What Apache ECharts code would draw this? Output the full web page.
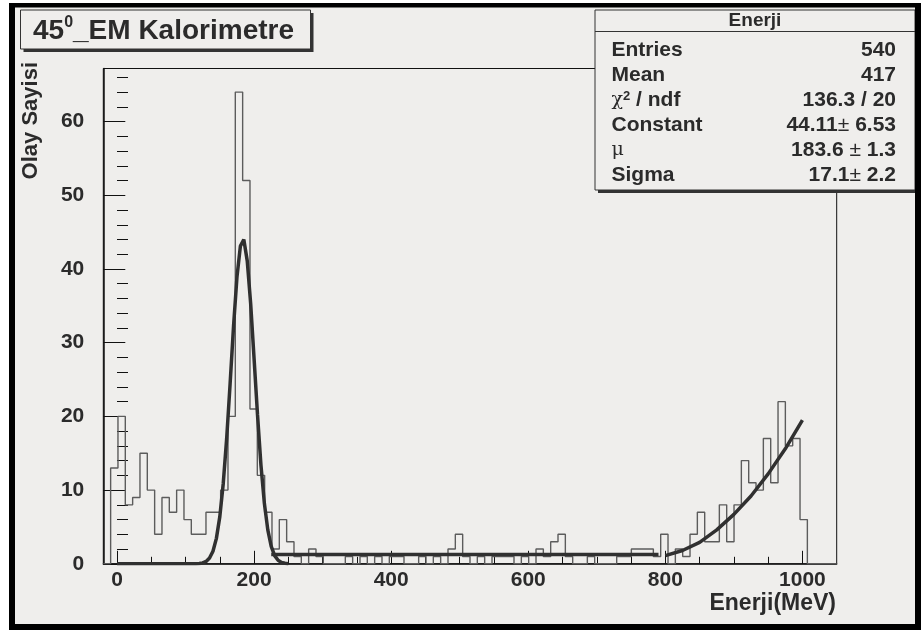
<!DOCTYPE html>
<html><head><meta charset="utf-8">
<script src="https://cdn.jsdelivr.net/npm/echarts@6/dist/echarts.min.js"></script>
<style>html,body{margin:0;padding:0;background:#fff}#c{width:921px;height:630px}</style>
</head><body><div id="c"></div>
<script>
// ---------------- data ----------------
const histMin = -20;
const histMax = 1050;
const counts = [
  0,13,20,8,9,15,10,4,9,7,
  10,6,4,4,7,7,10,20,64,52,
  21,12,7,2,6,3,1,0,2,1,
  0,0,0,1,0,1,0,1,0,1,
  1,0,0,1,0,1,0,2,4,1,
  0,1,0,1,1,1,0,1,0,2,
  1,3,4,1,0,0,1,0,0,0,
  1,1,2,2,2,1,4,0,2,1,
  4,7,3,3,8,3,8,14,11,10,
  17,11,22,16,17,6,0,0,0,0
];
// fit curves, points
const gausX = [0,50,100,110,115,120,125,130,135,140,145,150,155,160,165,170,175,180,185,190,195,200,205,210,215,220,225,230,235,240,245,250];
const gausY = [0,0,0,0,0.01,0.04,0.12,0.32,0.78,1.71,3.45,6.40,10.9,17.0,24.4,32.2,38.9,43.1,44.0,41.1,35.3,27.8,20.2,13.4,8.2,4.6,2.35,1.11,0.48,0.19,0.07,0.02];
const flatX = [225,790];
const flatY = [1.25,1.25];
const expX = [800,825,850,875,900,925,950,975,1000];
const expY = [1.1,1.8,2.9,4.6,6.7,9.2,12.2,15.6,19.5];
const xTickLabels = [0,200,400,600,800,1000];
const xMinorTicks = [50,100,150,250,300,350,450,500,550,650,700,750,850,900,950];
const yTickLabels = [0,10,20,30,40,50,60];
const yMinorTicks = [2,4,6,8,12,14,16,18,22,24,26,28,32,34,36,38,42,44,46,48,52,54,56,58,62,64,66];
const yMax = 67.2;
const statsRows = [
  ['Entries','540'],
  ['Mean','417'],
  ['chi','136.3 / 20'],
  ['Constant','44.11', '6.53'],
  ['mu','183.6 ', '1.3'],
  ['Sigma','17.1', '2.2']
];

// --------------- build ----------------
const nb = counts.length;
const bw = (histMax - histMin) / nb;
const histPts = counts.map((c, k) => [histMin + k * bw, c]);
histPts.push([histMax, 0]);
const zip = (a, b) => a.map((v, i) => [v, b[i]]);

const FF = '"Liberation Sans", Arial, Helvetica, sans-serif';
const TXT = '#2b2b2b';
const BG = '#efeeec';
const G = {left: 103.3, top: 68.5, width: 733.4, height: 495.3};

const chart = echarts.init(document.getElementById('c'), null, {renderer: 'canvas', width: 921, height: 630});

const lineSeries = (data, color, width, z, step) => ({
  type: 'line', data, symbol: 'none', step: step || false, z,
  lineStyle: {color, width}, silent: true, animation: false,
  xAxisIndex: 0, yAxisIndex: 0
});

const graphic = [];
// white outer margins + black canvas border
graphic.push({type: 'rect', shape: {x: 0, y: 0, width: 921, height: 3}, style: {fill: '#fff'}, z: 0});
graphic.push({type: 'rect', shape: {x: 0, y: 0, width: 9, height: 630}, style: {fill: '#fff'}, z: 0});
graphic.push({type: 'rect', shape: {x: 9, y: 3, width: 912, height: 4.5}, style: {fill: '#000'}, z: 100});
graphic.push({type: 'rect', shape: {x: 9, y: 3, width: 6, height: 627}, style: {fill: '#000'}, z: 100});
graphic.push({type: 'rect', shape: {x: 915, y: 3, width: 6, height: 627}, style: {fill: '#000'}, z: 100});
graphic.push({type: 'rect', shape: {x: 9, y: 624, width: 912, height: 6}, style: {fill: '#000'}, z: 100});

// title box
graphic.push({type: 'rect', shape: {x: 23.5, y: 13, width: 290, height: 39}, style: {fill: '#333'}, z: 50});
graphic.push({type: 'rect', shape: {x: 20.5, y: 10, width: 290, height: 39}, style: {fill: BG, stroke: '#333', lineWidth: 1}, z: 51});
graphic.push({type: 'text', x: 33, y: 30, z: 52, style: {
  text: '{b|45}{s|0}{b|_EM Kalorimetre}', verticalAlign: 'middle', align: 'left',
  rich: {
    b: {fontFamily: FF, fontWeight: 'bold', fontSize: 28, fill: TXT, lineHeight: 30, verticalAlign: 'bottom'},
    s: {fontFamily: FF, fontWeight: 'bold', fontSize: 16, fill: TXT, lineHeight: 30, verticalAlign: 'top'}
  }
}});

// stats box
const SB = {x: 595, y: 10, w: 320, h: 180};
graphic.push({type: 'rect', shape: {x: SB.x + 3, y: SB.y + 3, width: SB.w, height: SB.h}, style: {fill: '#333'}, z: 50});
graphic.push({type: 'rect', shape: {x: SB.x, y: SB.y, width: SB.w, height: SB.h}, style: {fill: BG, stroke: '#333', lineWidth: 1}, z: 51});
graphic.push({type: 'line', shape: {x1: SB.x, y1: 31.5, x2: SB.x + SB.w, y2: 31.5}, style: {stroke: '#333', lineWidth: 1}, z: 52});
graphic.push({type: 'text', x: 755, y: 21, z: 52, style: {text: 'Enerji', font: 'bold 19px ' + FF, fill: TXT, align: 'center', verticalAlign: 'middle'}});
const rowY = [50.5, 75.5, 100.5, 125.5, 150.5, 175.5];
const richS = {
  b: {fontFamily: FF, fontWeight: 'bold', fontSize: 21, fill: TXT},
  n: {fontFamily: FF, fontWeight: 'normal', fontSize: 21, fill: TXT},
  sup: {fontFamily: FF, fontWeight: 'bold', fontSize: 13, fill: TXT, verticalAlign: 'top', lineHeight: 22},
  g: {fontFamily: '"DejaVu Serif", serif', fontWeight: 'normal', fontSize: 19, fill: TXT}
};
statsRows.forEach((r, i) => {
  let lab;
  if (r[0] === 'chi') lab = '{g|\u03c7}{sup|2}{b| / ndf}';
  else if (r[0] === 'mu') lab = '{g|\u03bc}';
  else lab = '{b|' + r[0] + '}';
  graphic.push({type: 'text', x: 611.5, y: rowY[i], z: 52, style: {text: lab, align: 'left', verticalAlign: 'middle', rich: richS}});
  let val = r.length === 3 ? '{b|' + r[1] + '}{n|\u00b1}{b| ' + r[2] + '}' : '{b|' + r[1] + '}';
  graphic.push({type: 'text', x: 896, y: rowY[i], z: 52, style: {text: val, align: 'right', verticalAlign: 'middle', rich: richS}});
});

// axis titles
graphic.push({type: 'text', x: 31, y: 62, rotation: Math.PI / 2, z: 52, style: {text: 'Olay Sayisi', font: 'bold 22px ' + FF, fill: TXT, align: 'right', verticalAlign: 'middle'}});
graphic.push({type: 'text', x: 836, y: 604, z: 52, style: {text: 'Enerji(MeV)', font: 'bold 23px ' + FF, fill: TXT, align: 'right', verticalAlign: 'middle'}});

const axisFont = {fontFamily: FF, fontWeight: 'bold', fontSize: 21, color: TXT, formatter: v => String(v)};

chart.setOption({
  backgroundColor: BG,
  animation: false,
  grid: Object.assign({show: true, borderColor: '#111', borderWidth: 1, backgroundColor: BG}, G),
  xAxis: [
    {type: 'value', min: histMin, max: histMax, position: 'bottom',
     axisLine: {show: true, onZero: false, lineStyle: {color: '#111', width: 1.5}},
     splitLine: {show: false},
     axisTick: {show: true, inside: true, length: 13, customValues: xTickLabels, lineStyle: {color: '#111', width: 1}},
     axisLabel: Object.assign({customValues: xTickLabels, margin: 6}, axisFont)},
    {type: 'value', min: histMin, max: histMax, position: 'bottom', gridIndex: 0,
     axisLine: {show: false}, splitLine: {show: false},
     axisTick: {show: true, inside: true, length: 7, customValues: xMinorTicks, lineStyle: {color: '#111', width: 1}},
     axisLabel: {show: false}}
  ],
  yAxis: [
    {type: 'value', min: 0, max: yMax, position: 'left',
     axisLine: {show: true, onZero: false, lineStyle: {color: '#111', width: 1.5}},
     splitLine: {show: false},
     axisTick: {show: true, inside: true, length: 22, customValues: yTickLabels, lineStyle: {color: '#111', width: 1}},
     axisLabel: Object.assign({customValues: yTickLabels, margin: 19}, axisFont)},
    {type: 'value', min: 0, max: yMax, position: 'left', gridIndex: 0,
     axisLine: {show: false}, splitLine: {show: false},
     axisTick: {show: true, inside: true, length: 11, customValues: yMinorTicks, lineStyle: {color: '#111', width: 1}},
     axisLabel: {show: false}}
  ],
  series: [
    lineSeries(histPts, '#5c5c5c', 1.4, 2, 'end'),
    lineSeries(zip(gausX, gausY), '#303030', 3.5, 3),
    lineSeries(zip(flatX, flatY), '#303030', 3.5, 3),
    lineSeries(zip(expX, expY), '#303030', 3.5, 3)
  ],
  graphic: graphic
});
</script>
</body></html>
